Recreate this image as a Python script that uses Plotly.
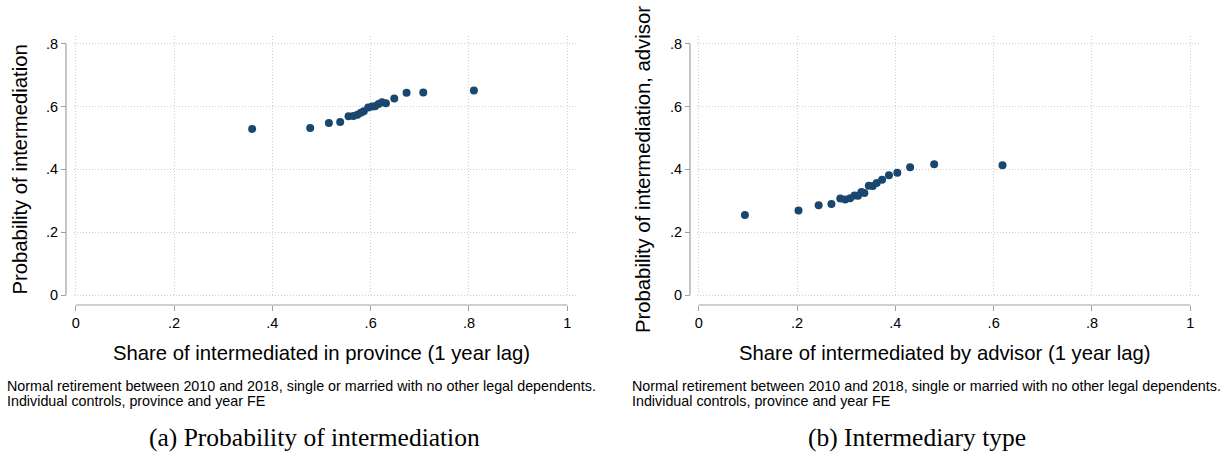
import plotly.graph_objects as go

# ---------------- data ----------------
left_x = [0.359, 0.477, 0.515, 0.538, 0.555, 0.565, 0.573, 0.580, 0.586, 0.595,
          0.603, 0.609, 0.616, 0.623, 0.631, 0.648, 0.673, 0.707, 0.810]
left_y = [0.529, 0.532, 0.548, 0.551, 0.569, 0.570, 0.574, 0.580, 0.585, 0.597,
          0.600, 0.601, 0.608, 0.614, 0.611, 0.626, 0.644, 0.645, 0.651]

right_x = [0.094, 0.203, 0.244, 0.270, 0.288, 0.298, 0.308, 0.317, 0.324, 0.331,
           0.337, 0.346, 0.354, 0.362, 0.373, 0.387, 0.404, 0.430, 0.479, 0.618]
right_y = [0.255, 0.269, 0.286, 0.290, 0.307, 0.304, 0.308, 0.317, 0.316, 0.328,
           0.325, 0.348, 0.347, 0.357, 0.367, 0.381, 0.389, 0.407, 0.416, 0.413]

x_tickvals = [0, 0.2, 0.4, 0.6, 0.8, 1]
x_ticktext = ["0", ".2", ".4", ".6", ".8", "1"]
y_tickvals = [0, 0.2, 0.4, 0.6, 0.8]
y_ticktext = ["0", ".2", ".4", ".6", ".8"]

left_xtitle = "Share of intermediated in province (1 year lag)"
left_ytitle = "Probability of intermediation"
right_xtitle = "Share of intermediated by advisor (1 year lag)"
right_ytitle = "Probability of intermediation, advisor"
note_line1 = "Normal retirement between 2010 and 2018, single or married with no other legal dependents."
note_line2 = "Individual controls, province and year FE"
left_caption = "(a) Probability of intermediation"
right_caption = "(b) Intermediary type"

# ---------------- style / geometry ----------------
W, H = 1231, 464
MARKER = "#1a476f"
GRID = "#cfcfcf"
AXIS = "#a0a0a0"
SANS = "Liberation Sans, Arial, Helvetica, sans-serif"
SERIF = "Liberation Serif, Times New Roman, serif"

def px_x(p):
    return p / W

def px_y(p):
    return 1 - p / H

XR = [-0.00346, 1.0197]
YR = [-0.00637, 0.8248]
ydom = [px_y(297), px_y(36)]
left_xdom = [px_x(74), px_x(577)]
right_xdom = [px_x(697), px_x(1200)]

fig = go.Figure()
fig.add_trace(go.Scatter(x=left_x, y=left_y, mode="markers", xaxis="x", yaxis="y",
                         marker=dict(color=MARKER, size=8, line=dict(width=0)),
                         showlegend=False))
fig.add_trace(go.Scatter(x=right_x, y=right_y, mode="markers", xaxis="x2", yaxis="y2",
                         marker=dict(color=MARKER, size=8, line=dict(width=0)),
                         showlegend=False))

common_x = dict(range=XR, tickvals=x_tickvals, ticktext=x_ticktext, ticks="outside",
                ticklen=5, tickwidth=1, tickcolor=AXIS, showline=False,
                showgrid=True, gridcolor=GRID, griddash="1px,2px", gridwidth=1,
                zeroline=False, tickfont=dict(family=SANS, size=14.5, color="#000"),
                anchor="free", position=px_y(305), fixedrange=True, automargin=False)
common_y = dict(range=YR, domain=ydom, tickvals=y_tickvals, ticktext=y_ticktext,
                ticks="outside", ticklen=5, tickwidth=1, tickcolor=AXIS, showline=False,
                showgrid=True, gridcolor=GRID, griddash="1px,2px", gridwidth=1,
                zeroline=False, tickfont=dict(family=SANS, size=14.5, color="#000"),
                anchor="free", fixedrange=True, automargin=False)

fig.update_layout(
    template="none",
    width=W, height=H,
    margin=dict(l=0, r=0, t=0, b=0, autoexpand=False),
    paper_bgcolor="white", plot_bgcolor="white",
    xaxis=dict(domain=left_xdom, **common_x),
    yaxis=dict(position=px_x(66), **common_y),
    xaxis2=dict(domain=right_xdom, **common_x),
    yaxis2=dict(position=px_x(690), **common_y),
)

# offset axis lines (Stata style)
line_style = dict(color=AXIS, width=1.2)
for xref, yref, ypos_px, xpos_px in [("x", "y", 305, 66), ("x2", "y2", 305, 690)]:
    fig.add_shape(type="line", xref=xref, yref="paper", x0=0, x1=1,
                  y0=px_y(ypos_px), y1=px_y(ypos_px), line=line_style)
    fig.add_shape(type="line", xref="paper", yref=yref, x0=px_x(xpos_px), x1=px_x(xpos_px),
                  y0=0, y1=0.8, line=line_style)

title_font = dict(family=SANS, size=20.3, color="#000")
note_font = dict(family=SANS, size=14.3, color="#000")
cap_font = dict(family=SERIF, size=25.5, color="#000")

ann = [
    dict(text=left_xtitle, x=px_x(321.4), y=px_y(353), font=title_font),
    dict(text=right_xtitle, x=px_x(944.5), y=px_y(353), font=title_font),
    dict(text=left_ytitle, x=px_x(19.5), y=px_y(170), font=title_font, textangle=-90),
    dict(text=right_ytitle, x=px_x(643), y=px_y(170), font=title_font, textangle=-90),
    dict(text=note_line1, x=px_x(5), y=px_y(386), font=note_font, xanchor="left"),
    dict(text=note_line2, x=px_x(5), y=px_y(401), font=note_font, xanchor="left"),
    dict(text=note_line1, x=px_x(630), y=px_y(386), font=note_font, xanchor="left"),
    dict(text=note_line2, x=px_x(630), y=px_y(401), font=note_font, xanchor="left"),
    dict(text=left_caption, x=px_x(314), y=px_y(437), font=cap_font),
    dict(text=right_caption, x=px_x(917), y=px_y(437), font=cap_font),
]
for a in ann:
    base = dict(xref="paper", yref="paper", showarrow=False, xanchor="center", yanchor="middle")
    base.update(a)
    fig.add_annotation(**base)

fig.write_html("out.html", config={"displayModeBar": False},
               post_script="document.body.style.margin='0';document.body.style.overflow='hidden';")
